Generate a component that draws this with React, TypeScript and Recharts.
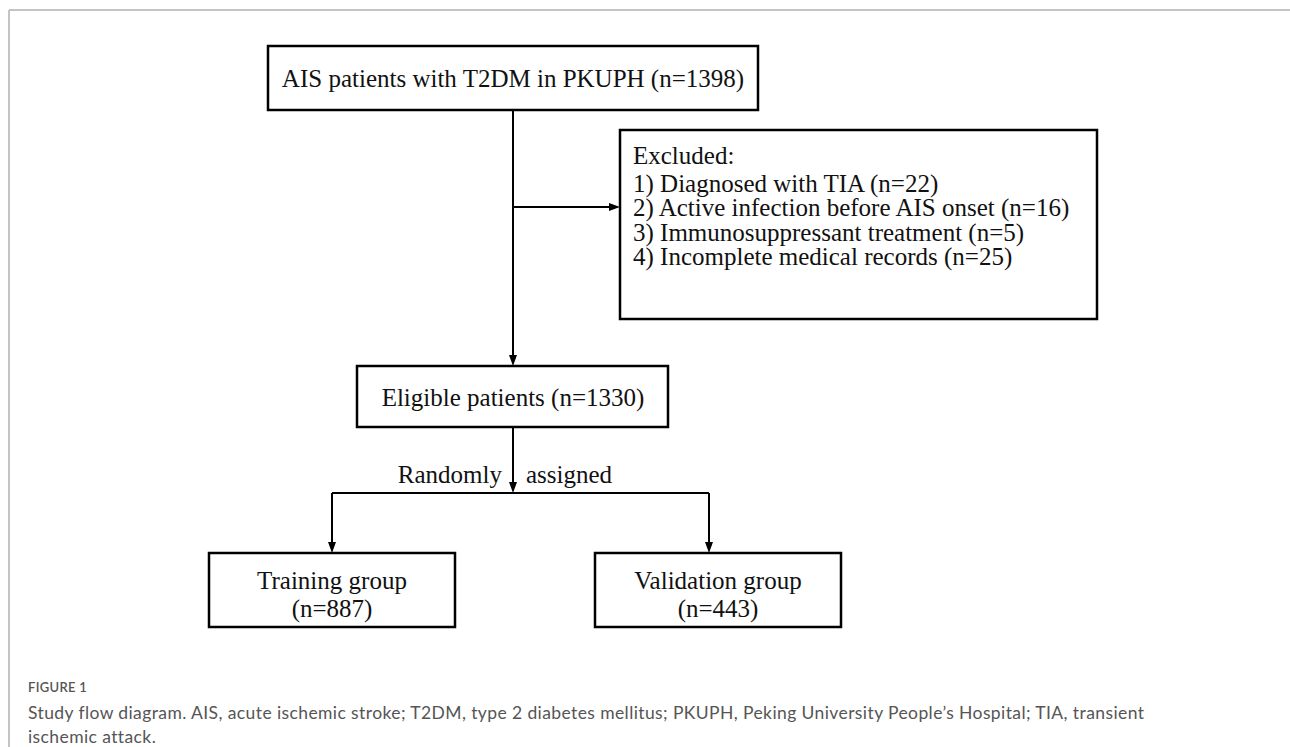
import { ScatterChart, Scatter, XAxis, YAxis, ReferenceArea, ReferenceLine } from "recharts";

// diagram canvas units = pixels of the 1290x747 figure
const W = 1290;
const H = 747;

const boxes = [
  { id: "source", x1: 268, x2: 758, y1: 46, y2: 110 },
  { id: "excluded", x1: 620, x2: 1097, y1: 130, y2: 319 },
  { id: "eligible", x1: 357, x2: 668, y1: 366, y2: 427 },
  { id: "training", x1: 209, x2: 455, y1: 553, y2: 627 },
  { id: "validation", x1: 595, x2: 841, y1: 553, y2: 627 },
];

const connectors = [
  { from: [513, 110], to: [513, 366], arrow: true },
  { from: [513, 207], to: [620, 207], arrow: true },
  { from: [513, 427], to: [513, 493], arrow: true },
  { from: [332, 493], to: [709, 493], arrow: false },
  { from: [332, 493], to: [332, 553], arrow: true },
  { from: [709, 493], to: [709, 553], arrow: true },
];

const frameLines = [
  { from: [9, 10], to: [1290, 10] },
  { from: [9, 10], to: [9, 747] },
];

const labels = [
  { x: 513, y: 78, text: "AIS patients with T2DM in PKUPH (n=1398)", role: "box", anchor: "middle" },
  { x: 633, y: 155, text: "Excluded:", role: "box", anchor: "start" },
  { x: 633, y: 183, text: "1) Diagnosed with TIA (n=22)", role: "box", anchor: "start" },
  { x: 633, y: 207.5, text: "2) Active infection before AIS onset (n=16)", role: "box", anchor: "start" },
  { x: 633, y: 232, text: "3) Immunosuppressant treatment (n=5)", role: "box", anchor: "start" },
  { x: 633, y: 256.5, text: "4) Incomplete medical records (n=25)", role: "box", anchor: "start" },
  { x: 513, y: 397, text: "Eligible patients (n=1330)", role: "box", anchor: "middle" },
  { x: 502, y: 474, text: "Randomly", role: "box", anchor: "end" },
  { x: 526, y: 474, text: "assigned", role: "box", anchor: "start" },
  { x: 332, y: 580, text: "Training group", role: "box", anchor: "middle" },
  { x: 332, y: 608, text: "(n=887)", role: "box", anchor: "middle" },
  { x: 718, y: 580, text: "Validation group", role: "box", anchor: "middle" },
  { x: 718, y: 608, text: "(n=443)", role: "box", anchor: "middle" },
  { x: 28, y: 687, text: "FIGURE 1", role: "figure", anchor: "start" },
  {
    x: 28,
    y: 712,
    text: "Study flow diagram. AIS, acute ischemic stroke; T2DM, type 2 diabetes mellitus; PKUPH, Peking University People\u2019s Hospital; TIA, transient",
    role: "caption",
    anchor: "start",
  },
  { x: 28, y: 736, text: "ischemic attack.", role: "caption", anchor: "start" },
];

const textStyles: Record<string, any> = {
  box: { fontFamily: "'Liberation Serif', 'Times New Roman', serif", fontSize: 25, fill: "#111" },
  figure: { fontFamily: "Lato, sans-serif", fontSize: 13, fontWeight: 600, fill: "#555", letterSpacing: 0.3 },
  caption: { fontFamily: "Lato, sans-serif", fontSize: 17.5, fill: "#555", letterSpacing: 0.4 },
};

const Connector = (props: any) => {
  const { x1, y1, x2, y2, arrow } = props;
  if (x1 == null) return null;
  const dx = x2 - x1;
  const dy = y2 - y1;
  const len = Math.sqrt(dx * dx + dy * dy) || 1;
  const ux = dx / len;
  const uy = dy / len;
  const headLen = 11;
  const headW = 4;
  const bx = x2 - ux * headLen;
  const by = y2 - uy * headLen;
  return (
    <g>
      <line x1={x1} y1={y1} x2={arrow ? bx : x2} y2={arrow ? by : y2} stroke="#000" strokeWidth={2} />
      {arrow && (
        <polygon
          points={`${x2},${y2} ${bx - uy * headW},${by + ux * headW} ${bx + uy * headW},${by - ux * headW}`}
          fill="#000"
        />
      )}
    </g>
  );
};

const LabelShape = (props: any) => {
  const { cx, cy, payload } = props;
  if (cx == null || !payload) return null;
  return (
    <text x={cx} y={cy} textAnchor={payload.anchor} dominantBaseline="central" {...textStyles[payload.role]}>
      {payload.text}
    </text>
  );
};

export default function App() {
  return (
    <div style={{ position: "absolute", left: 0, top: 0, width: W, height: H, background: "#fff" }}>
      <ScatterChart width={W} height={H} margin={{ top: 0, right: 0, bottom: 0, left: 0 }}>
        <XAxis type="number" dataKey="x" domain={[0, W]} hide allowDataOverflow />
        <YAxis type="number" dataKey="y" domain={[0, H]} reversed hide allowDataOverflow />
        {frameLines.map((l, i) => (
          <ReferenceLine
            key={`f${i}`}
            segment={[
              { x: l.from[0], y: l.from[1] },
              { x: l.to[0], y: l.to[1] },
            ]}
            stroke="#c4c4c4"
            strokeWidth={2}
            ifOverflow="visible"
          />
        ))}
        {connectors.map((c, i) => (
          <ReferenceLine
            key={`c${i}`}
            segment={[
              { x: c.from[0], y: c.from[1] },
              { x: c.to[0], y: c.to[1] },
            ]}
            ifOverflow="visible"
            shape={(p: any) => <Connector {...p} arrow={c.arrow} />}
          />
        ))}
        {boxes.map((b) => (
          <ReferenceArea
            key={b.id}
            x1={b.x1}
            x2={b.x2}
            y1={b.y1}
            y2={b.y2}
            fill="#fff"
            fillOpacity={0}
            stroke="#000"
            strokeWidth={2.5}
            ifOverflow="visible"
          />
        ))}
        <Scatter data={labels} dataKey="y" isAnimationActive={false} shape={LabelShape} />
      </ScatterChart>
    </div>
  );
}
